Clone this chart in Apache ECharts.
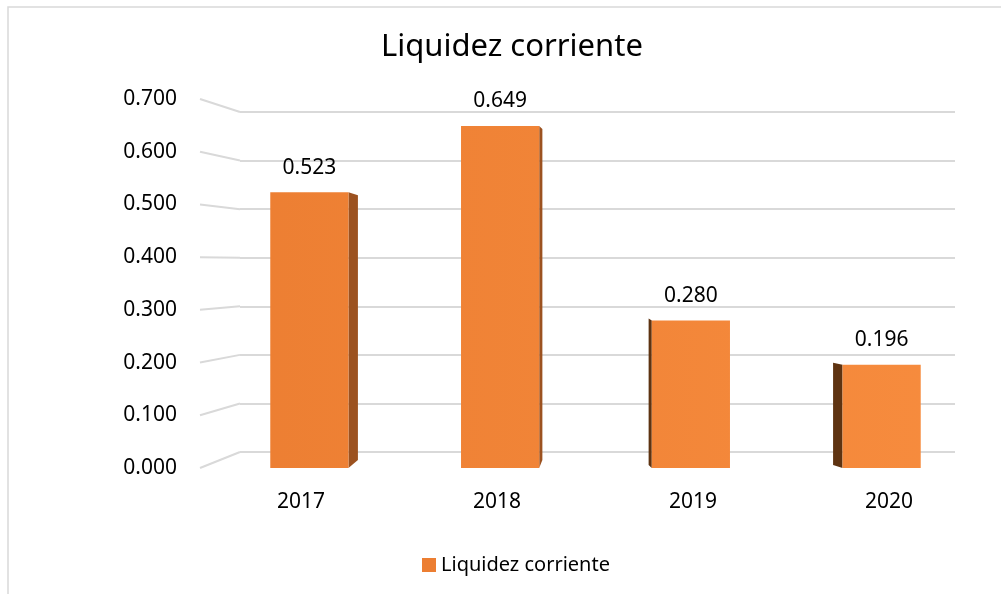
<!DOCTYPE html>
<html>
<head>
<meta charset="utf-8">
<script src="https://cdn.jsdelivr.net/npm/echarts@6/dist/echarts.min.js"></script>
<style>
  html, body { margin: 0; padding: 0; background: #fff; }
  #chart { width: 1001px; height: 594px; }
</style>
</head>
<body>
<div id="chart"></div>
<script>
const years = ['2017', '2018', '2019', '2020']
const liquidez = [0.523, 0.649, 0.280, 0.196]
const yTicks = [0, 0.1, 0.2, 0.3, 0.4, 0.5, 0.6, 0.7]

const font = 'Noto Sans'
const chart = echarts.init(document.getElementById('chart'))

// side faces of the pseudo-3D bars, leaning toward the middle of the plot
function renderSide(params, api) {
  const i = api.value(0)
  const v = api.value(1)
  const top = api.coord([i, v])
  const base = api.coord([i, 0])
  const w = api.size([1, 0])[0] * 0.41
  const center = params.coordSys.x + params.coordSys.width / 2
  const d = (center - top[0]) * 0.033
  const edge = d > 0 ? top[0] + w / 2 : top[0] - w / 2
  return {
    type: 'polygon',
    shape: {
      points: [
        [edge, top[1]],
        [edge + d, top[1] + (d > 0 ? 3 : -2)],
        [edge + d, base[1] - (d > 0 ? 8 : 3)],
        [edge, base[1]]
      ]
    },
    style: { fill: d > 0 ? '#9C5220' : '#5E3311' }
  }
}

const option = {
  animation: false,
  title: {
    text: 'Liquidez corriente',
    left: 376,
    top: 27,
    textStyle: { fontFamily: font, fontSize: 31, fontWeight: 'normal', color: '#000' }
  },
  legend: {
    data: ['Liquidez corriente'],
    bottom: 14,
    left: 417,
    icon: 'rect',
    itemWidth: 14,
    itemHeight: 14,
    itemGap: 6,
    textStyle: { fontFamily: font, fontSize: 20, color: '#000' }
  },
  grid: [
    { left: 214, right: 24, top: 99, bottom: 126 },
    { left: 240, right: 46, top: 112, bottom: 142 },
    { left: 203, right: 14, top: 99, bottom: 126 }
  ],
  xAxis: [
    {
      type: 'category',
      gridIndex: 0,
      data: years,
      show: false
    },
    {
      type: 'category',
      gridIndex: 1,
      data: years,
      show: false
    },
    {
      type: 'category',
      gridIndex: 2,
      data: years,
      axisLine: { show: false },
      axisTick: { show: false },
      axisLabel: { fontFamily: font, fontSize: 21, color: '#000', margin: 24 }
    }
  ],
  yAxis: [
    {
      type: 'value',
      gridIndex: 0,
      min: 0,
      max: 0.7,
      interval: 0.1,
      axisLine: { show: false },
      axisTick: { show: false },
      splitLine: { show: false },
      axisLabel: {
        fontFamily: font, fontSize: 21, color: '#000', margin: 37,
        formatter: v => v.toFixed(3)
      }
    },
    {
      type: 'value',
      gridIndex: 1,
      min: 0,
      max: 0.7,
      interval: 0.1,
      axisLine: { show: false },
      axisTick: { show: false },
      axisLabel: { show: false },
      splitLine: { lineStyle: { color: '#d9d9d9', width: 2 } }
    },
    {
      type: 'value',
      gridIndex: 2,
      min: 0,
      max: 0.7,
      show: false
    }
  ],
  series: [
    {
      name: 'Liquidez corriente',
      type: 'bar',
      xAxisIndex: 0,
      yAxisIndex: 0,
      barWidth: '41%',
      data: liquidez,
      itemStyle: {
        color: {
          type: 'linear', x: 214, y: 0, x2: 977, y2: 0, global: true,
          colorStops: [
            { offset: 0, color: '#EC7E32' },
            { offset: 1, color: '#F78C3E' }
          ]
        }
      },
      label: {
        show: true,
        position: 'top',
        distance: 14,
        fontFamily: font,
        fontSize: 21,
        color: '#000',
        formatter: p => p.value.toFixed(3)
      },
      z: 3
    },
    {
      name: 'lados',
      type: 'custom',
      xAxisIndex: 0,
      yAxisIndex: 0,
      renderItem: renderSide,
      data: liquidez.map((v, i) => [i, v]),
      z: 2
    }
  ]
}

chart.setOption(option)

// diagonal side-wall lines joining front labels to the back gridlines
const diagonals = yTicks.map(v => ({
  type: 'line',
  shape: {
    x1: 200,
    y1: chart.convertToPixel({ yAxisIndex: 0 }, v),
    x2: 240,
    y2: chart.convertToPixel({ yAxisIndex: 1 }, v)
  },
  style: { stroke: '#d9d9d9', lineWidth: 2 },
  z: 1
}))

chart.setOption({
  graphic: [
    {
      type: 'rect',
      shape: { x: 8, y: 7, width: 1010, height: 610 },
      style: { fill: 'none', stroke: '#d9d9d9', lineWidth: 1.5 },
      silent: true
    },
    ...diagonals
  ]
})
</script>
</body>
</html>
